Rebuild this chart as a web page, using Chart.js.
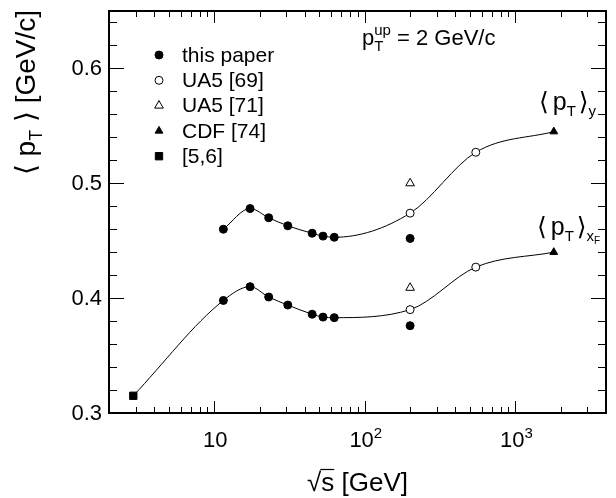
<!DOCTYPE html>
<html>
<head>
<meta charset="utf-8">
<script src="https://cdn.jsdelivr.net/npm/chart.js@4/dist/chart.umd.min.js"></script>
<style>
  body { margin: 0; background: #fff; }
  #ptChart { display: block; }
</style>
</head>
<body>
<canvas id="ptChart" width="616" height="498"></canvas>
<script>
// sqrt(s) in GeV, mean pT in GeV/c ("y" = upper curve, "xF" = lower curve)
var thisPaperS = [11.5, 17.3, 23.0, 30.8, 44.7, 52.8, 62.7, 200];
var thisPaperY = [0.460, 0.478, 0.470, 0.463, 0.4565, 0.454, 0.453, 0.452];
var thisPaperXF = [0.398, 0.410, 0.401, 0.394, 0.386, 0.3835, 0.383, 0.376];

var ua569S = [200, 546];
var ua569Y = [0.474, 0.527];
var ua569XF = [0.390, 0.427];

var ua571S = [200];
var ua571Y = [0.500];
var ua571XF = [0.409];

var cdfS = [1800];
var cdfY = [0.545];
var cdfXF = [0.440];

var refS = [2.9];
var refXF = [0.315];

var legendLabels = ["this paper", "UA5 [69]", "UA5 [71]", "CDF [74]", "[5,6]"];

var xMajorTicks = [10, 100, 1000];
var xTickExponents = ["", "2", "3"];
var yMajorTicks = [0.3, 0.4, 0.5, 0.6];
var yTickLabels = ["0.3", "0.4", "0.5", "0.6"];

var FONT = "'Liberation Sans', 'DejaVu Sans', Arial, sans-serif";

function pts(xs, ys) {
  return xs.map(function (x, i) { return { x: x, y: ys[i] }; });
}

// the fitted curves go through this paper (SPS/ISR), UA5 and CDF points
var curveYData = pts(thisPaperS.slice(0, 7).concat(ua569S, cdfS),
                     thisPaperY.slice(0, 7).concat(ua569Y, cdfY));
var curveXFData = pts(refS.concat(thisPaperS.slice(0, 7), ua569S, cdfS),
                      refXF.concat(thisPaperXF.slice(0, 7), ua569XF, cdfXF));

// draws text pieces one after another; {gap: n} just moves on n px
function drawRuns(ctx, runs, x, y, align) {
  var w = 0;
  runs.forEach(function (r) {
    if (r.gap) { r.w = r.gap; w += r.w; return; }
    ctx.font = r.size + "px " + FONT;
    r.w = ctx.measureText(r.t).width;
    w += r.w;
  });
  if (align === "center") x -= w / 2;
  if (align === "right") x -= w;
  ctx.textBaseline = "alphabetic";
  ctx.textAlign = "left";
  runs.forEach(function (r) {
    if (!r.gap) {
      ctx.font = r.size + "px " + FONT;
      ctx.fillText(r.t, x, y + (r.dy || 0));
    }
    x += r.w;
  });
  return x;
}

function meanPtRuns(size, sub) {
  var runs = [
    { t: "\u27E8", size: size }, { gap: 4 },
    { t: "p", size: size },
    { t: "T", size: 15, dy: 6 }, { gap: 3 },
    { t: "\u27E9", size: size }
  ];
  return runs.concat(sub);
}

var framePlugin = {
  id: "frame",
  afterDraw: function (chart) {
    var ctx = chart.ctx;
    var a = chart.chartArea;
    var xs = chart.scales.x, ys = chart.scales.y;
    ctx.save();
    ctx.strokeStyle = "#000";
    ctx.fillStyle = "#000";

    // ticks on all four sides, pointing inward
    ctx.lineWidth = 1;
    ctx.beginPath();
    for (var v = 0.3; v <= 0.6501; v += 0.02) {
      var py = Math.round(ys.getPixelForValue(v)) + 0.5;
      var major = Math.abs(v * 10 - Math.round(v * 10)) < 1e-6;
      var len = major ? 15 : 8;
      ctx.moveTo(a.left, py); ctx.lineTo(a.left + len, py);
      ctx.moveTo(a.right, py); ctx.lineTo(a.right - len, py);
    }
    for (var d = 1; d <= 1000; d *= 10) {
      for (var m = 1; m <= 9; m++) {
        var val = m * d;
        if (val < xs.min || val > xs.max) continue;
        var px = Math.round(xs.getPixelForValue(val)) + 0.5;
        var l = m === 1 ? 12 : 6;
        ctx.moveTo(px, a.bottom); ctx.lineTo(px, a.bottom - l);
        ctx.moveTo(px, a.top); ctx.lineTo(px, a.top + l);
      }
    }
    ctx.stroke();

    // frame
    ctx.lineWidth = 2;
    ctx.strokeRect(a.left, a.top, a.right - a.left, a.bottom - a.top);

    // y tick labels
    ctx.font = "22px " + FONT;
    ctx.textAlign = "right";
    ctx.textBaseline = "middle";
    yMajorTicks.forEach(function (v, i) {
      ctx.fillText(yTickLabels[i], 102, ys.getPixelForValue(v) + 1);
    });

    // x tick labels
    xMajorTicks.forEach(function (v, i) {
      var runs = [{ t: "10", size: 22 }];
      if (xTickExponents[i]) runs.push({ t: xTickExponents[i], size: 15, dy: -9 });
      drawRuns(ctx, runs, xs.getPixelForValue(v) + 1, 447, "center");
    });

    // x title: sqrt(s) [GeV]
    var xEnd = drawRuns(ctx, [{ t: "\u221A", size: 26 }], 307, 491, "left");
    var sEnd = drawRuns(ctx, [{ t: "s", size: 26 }], xEnd, 491, "left");
    ctx.lineWidth = 1.2;
    ctx.beginPath();
    ctx.moveTo(xEnd - 1, 491 - 21.5);
    ctx.lineTo(sEnd, 491 - 21.5);
    ctx.stroke();
    drawRuns(ctx, [{ t: " [GeV]", size: 26 }], sEnd, 491, "left");

    // y title, rotated
    ctx.save();
    ctx.translate(35, 10);
    ctx.rotate(-Math.PI / 2);
    drawRuns(ctx, [
      { t: "\u27E8 p", size: 28 },
      { t: "T", size: 18, dy: 7 },
      { t: " \u27E9 [GeV/c]", size: 28 }
    ], 0, 0, "right");
    ctx.restore();

    // p_T^up label
    var pEnd = drawRuns(ctx, [{ t: "p", size: 22 }], 362, 45, "left");
    drawRuns(ctx, [{ t: "T", size: 15, dy: 6 }], pEnd, 45, "left");
    var upEnd = drawRuns(ctx, [{ t: "up", size: 15, dy: -10 }], pEnd, 45, "left");
    drawRuns(ctx, [{ t: " = 2 GeV/c", size: 22 }], upEnd, 45, "left");

    // curve labels
    drawRuns(ctx, meanPtRuns(25, [{ t: "y", size: 15, dy: 6 }]), 539, 110, "left");
    drawRuns(ctx, meanPtRuns(25, [
      { t: "x", size: 15, dy: 6 },
      { t: "F", size: 10, dy: 9 }
    ]), 537, 235, "left");

    // legend
    chart.data.datasets.forEach(function (ds) {
      if (ds.legendRow === undefined) return;
      var ly = 55 + ds.legendRow * 25.3;
      ctx.fillStyle = ds.backgroundColor;
      ctx.strokeStyle = ds.borderColor;
      ctx.lineWidth = ds.borderWidth;
      Chart.helpers.drawPoint(ctx, {
        pointStyle: ds.pointStyle,
        radius: ds.pointRadius,
        rotation: 0,
        borderWidth: ds.borderWidth
      }, 159, ly);
      ctx.fillStyle = "#000";
      ctx.font = "21px " + FONT;
      ctx.textAlign = "left";
      ctx.textBaseline = "middle";
      ctx.fillText(ds.label, 182, ly + 1);
    });
    ctx.restore();
  }
};

function markerSet(label, row, xs, ys1, ys2, style, radius, filled) {
  return {
    type: "scatter",
    label: label,
    legendRow: row,
    data: pts(xs, ys1).concat(ys2 ? pts(xs, ys2) : []),
    pointStyle: style,
    pointRadius: radius,
    backgroundColor: filled ? "#000" : "#fff",
    borderColor: "#000",
    borderWidth: 1,
    order: 1
  };
}

function curveSet(data) {
  return {
    type: "line",
    data: data,
    borderColor: "#000",
    borderWidth: 1,
    pointRadius: 0,
    cubicInterpolationMode: "monotone",
    fill: false,
    order: 2
  };
}

new Chart("ptChart", {
  data: {
    datasets: [
      markerSet(legendLabels[0], 0, thisPaperS, thisPaperY, thisPaperXF, "circle", 4, true),
      markerSet(legendLabels[1], 1, ua569S, ua569Y, ua569XF, "circle", 4, false),
      markerSet(legendLabels[2], 2, ua571S, ua571Y, ua571XF, "triangle", 5, false),
      markerSet(legendLabels[3], 3, cdfS, cdfY, cdfXF, "triangle", 4.5, true),
      markerSet(legendLabels[4], 4, refS, refXF, null, "rect", 5.2, true),
      curveSet(curveYData),
      curveSet(curveXFData)
    ]
  },
  options: {
    responsive: false,
    animation: false,
    devicePixelRatio: 1,
    events: [],
    layout: { padding: { left: 109, right: 10, top: 11, bottom: 85 } },
    plugins: { legend: { display: false }, tooltip: { enabled: false } },
    scales: {
      x: { type: "logarithmic", min: 2, max: 4000, display: false },
      y: { type: "linear", min: 0.3, max: 0.65, display: false }
    }
  },
  plugins: [framePlugin]
});
</script>
</body>
</html>
